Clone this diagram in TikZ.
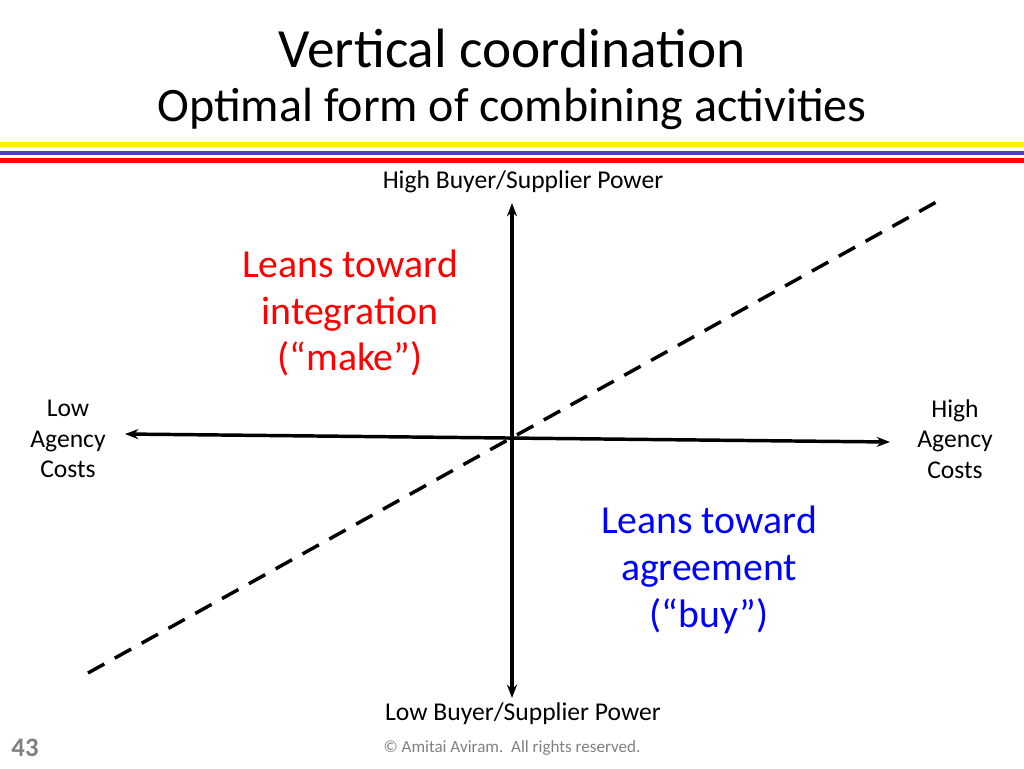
\documentclass[tikz,border=0pt]{standalone}
\usepackage{fontspec}
\setmainfont{Carlito}
\usetikzlibrary{positioning,arrows.meta}
\tikzset{
  axis/.style={line width=2.6pt, {Stealth[length=10pt]}-{Stealth[length=10pt]}},
  label/.style={font=\fontsize{19.2}{23}\selectfont, align=center},
  lean/.style={font=\fontsize{29.8}{35}\selectfont, align=center},
}
\begin{document}
\begin{tikzpicture}[x=0.75pt,y=-0.75pt]
    \useasboundingbox (0,0) rectangle (1024,768);
    % Title
    \node (title) at (512,48) {\fontsize{41.5}{48}\selectfont Vertical coordination};
    \node (subtitle) at (512,109) {\fontsize{36}{42}\selectfont Optimal form of combining activities};

    % Rules under the title
    \fill[yellow] (0,142) rectangle (1024,147);
    \fill[blue!45!gray] (0,151) rectangle (1024,155);
    \fill[red] (0,158) rectangle (1024,163);

    % Axes
    \coordinate (left) at (125,434);
    \coordinate (right) at (890,442);
    \coordinate (top) at (512,203);
    \coordinate (bottom) at (512,698);
    \draw[axis] (left) -- (right);
    \draw[axis] (bottom) -- (top);

    % Dividing line
    \coordinate (d1) at (88,673);
    \coordinate (d2) at (940,200);
    \draw[line width=2.6pt, dash pattern=on 14pt off 9pt] (d1) -- (d2);

    % Axis labels
    \node[label] (hp) at (523,182) {High Buyer/Supplier Power};
    \node[label] (lp) at (523,714) {Low Buyer/Supplier Power};
    \node[label] (lc) at (68,439) {Low\\Agency\\Costs};
    \node[label] (hc) at (955,439) {High\\Agency\\Costs};

    % Regions
    \node[lean, red] (make) at (350,313) {Leans toward\\integration\\(“make”)};
    \node[lean, blue] (buy) at (709,570) {Leans toward\\agreement\\(“buy”)};

    % Footer
    \node[font=\fontsize{20}{24}\selectfont\bfseries, gray] (page) at (25,748) {43};
    \node[font=\fontsize{12.8}{15}\selectfont, gray] (copy) at (512,748) {© Amitai Aviram.\ \ All rights reserved.};
\end{tikzpicture}
\end{document}
